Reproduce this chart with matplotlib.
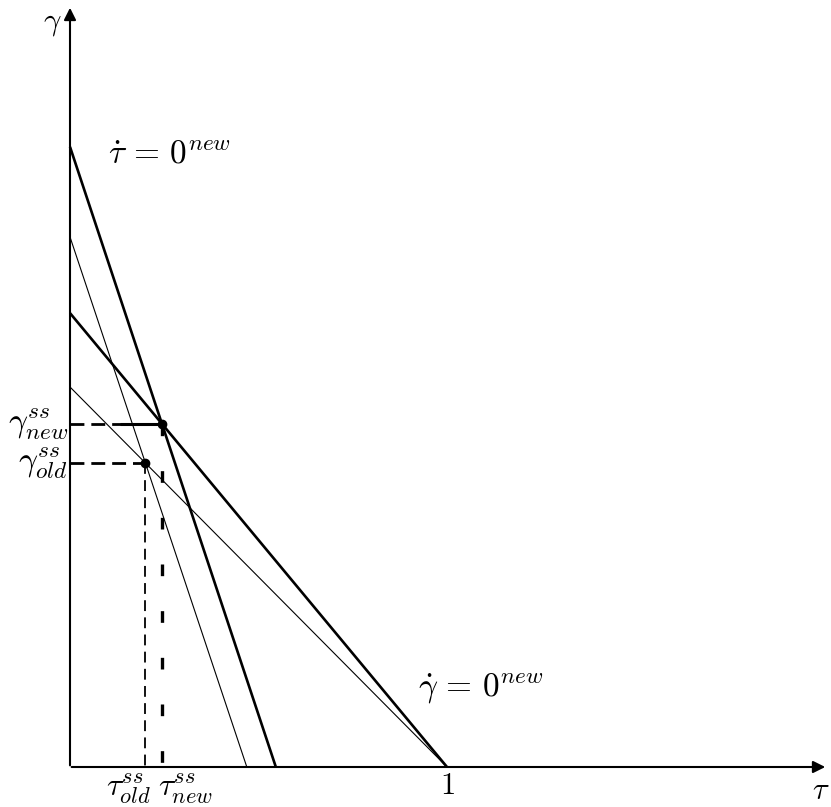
import matplotlib.pyplot as plt
import numpy as np

plt.rcParams['mathtext.fontset'] = 'cm'
plt.rcParams['font.family'] = 'serif'

# Intercepts of the four loci (gamma-axis intercept, tau-axis intercept)
tau_dot_new = (1.645, 0.546)
tau_dot_old = (1.406, 0.469)
gamma_dot_new = (1.204, 1.0)
gamma_dot_old = (1.008, 1.0)


def cruce(a, b):
    # intersection of two lines given by their intercepts
    g1, t1 = a
    g2, t2 = b
    tau = (g1 - g2) / (g1 / t1 - g2 / t2)
    return tau, g2 * (1 - tau / t2)


tau_new, gam_new = cruce(tau_dot_new, gamma_dot_new)
tau_old, gam_old = cruce(tau_dot_old, gamma_dot_old)

fig = plt.figure(figsize=(8.31, 8.07), dpi=100)
ax = fig.add_axes([0, 0, 1, 1])
ax.set_xlim(-70 / 377, 761 / 377)
ax.set_ylim(-40 / 377, 767 / 377)
ax.axis('off')

# axes with arrows
ax.annotate('', xy=(758 / 377, 0), xytext=(-0.003, 0),
            arrowprops=dict(arrowstyle='-|>', lw=1.5, color='black', mutation_scale=18))
ax.annotate('', xy=(0, 762 / 377), xytext=(0, -0.003),
            arrowprops=dict(arrowstyle='-|>', lw=1.5, color='black', mutation_scale=18))

# loci
for (g, t), lw in [(tau_dot_new, 1.9), (tau_dot_old, 0.8),
                   (gamma_dot_new, 1.9), (gamma_dot_old, 0.8)]:
    ax.plot([0, t], [g, 0], color='black', lw=lw, solid_capstyle='butt')

# steady state guides
ax.plot([0, tau_old], [gam_old, gam_old], color='black', lw=2, dashes=(5, 2.5))
ax.plot([tau_old, tau_old], [gam_old, 0], color='black', lw=1.3, dashes=(6, 3.5))
ax.plot([0, tau_new], [gam_new, gam_new], color='black', lw=2, dashes=(5, 2.5))
ax.plot([50 / 377, tau_new], [gam_new, gam_new], color='black', lw=2.2,
        solid_capstyle='butt')
ax.plot([tau_new, tau_new], [gam_new, 0], color='black', lw=2.4, dashes=(3.5, 10.5))

ax.plot([tau_new, tau_old], [gam_new, gam_old], 'o', color='black', ms=6)

fs = 24
ax.text(38 / 377, 604 / 377, r'$\dot{\tau}\,=\,0^{new}$', fontsize=fs, ha='left', va='baseline')
ax.text(348 / 377, 70 / 377, r'$\dot{\gamma}\,=\,0^{new}$', fontsize=fs, ha='left', va='baseline')
ax.text(1.0, -3 / 377, r'$1$', fontsize=22, ha='center', va='top')
ax.text(760 / 377, -32 / 377, r'$\tau$', fontsize=22, ha='right', va='baseline')
ax.text(-8 / 377, 745 / 377, r'$\gamma$', fontsize=22, ha='right', va='center')
ax.text(-2 / 377, gam_new, r'$\gamma^{ss}_{new}$', fontsize=fs, ha='right', va='center')
ax.text(-2 / 377, gam_old, r'$\gamma^{ss}_{old}$', fontsize=fs, ha='right', va='center')
ax.text(tau_old - 0.045, -4 / 377, r'$\tau^{ss}_{old}$', fontsize=23, ha='center', va='top')
ax.text(tau_new + 0.063, -4 / 377, r'$\tau^{ss}_{new}$', fontsize=23, ha='center', va='top')

fig.savefig('out.png', dpi=100)
